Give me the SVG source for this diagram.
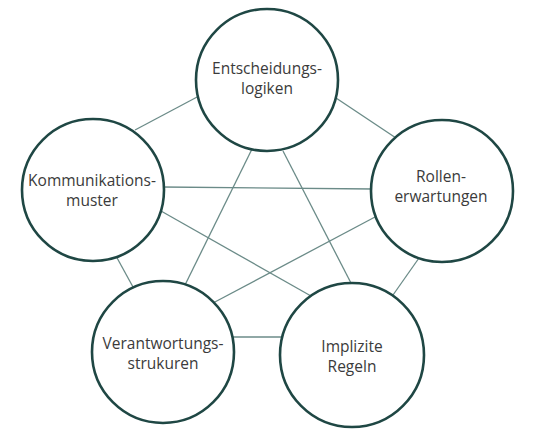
<svg xmlns="http://www.w3.org/2000/svg" width="533" height="445" viewBox="0 0 533 445">
<style>
.edge{stroke:#6b8b88;stroke-width:1.3;fill:none}
.node{fill:#ffffff;stroke:#1f4744;stroke-width:2.6}
.lbl{font-family:"Open Sans","Noto Sans",sans-serif;font-size:15.5px;fill:#3b3b3b;text-anchor:middle}
</style>
<rect width="533" height="445" fill="#ffffff"/>
<g id="connectors">
<line class="edge" x1="135" y1="130" x2="199" y2="96"/>
<line class="edge" x1="336" y1="98" x2="396" y2="138"/>
<line class="edge" x1="162" y1="187" x2="373" y2="189"/>
<line class="edge" x1="161" y1="211" x2="311" y2="296"/>
<line class="edge" x1="375" y1="217" x2="213" y2="303"/>
<line class="edge" x1="253" y1="147" x2="185" y2="285"/>
<line class="edge" x1="283" y1="151" x2="352" y2="285"/>
<line class="edge" x1="116" y1="256" x2="133" y2="287"/>
<line class="edge" x1="419" y1="258" x2="393" y2="295"/>
<line class="edge" x1="232" y1="337" x2="283" y2="337"/>
</g>
<g id="node-entscheidungslogiken">
<circle class="node" cx="267" cy="80" r="71"/>
<text class="lbl" x="267" y="74">Entscheidungs-</text>
<text class="lbl" x="267" y="94">logiken</text>
</g>
<g id="node-kommunikationsmuster">
<circle class="node" cx="93" cy="190" r="71"/>
<text class="lbl" x="92" y="186">Kommunikations-</text>
<text class="lbl" x="92" y="206">muster</text>
</g>
<g id="node-rollenerwartungen">
<circle class="node" cx="442" cy="191" r="71"/>
<text class="lbl" x="441" y="182">Rollen-</text>
<text class="lbl" x="441" y="202">erwartungen</text>
</g>
<g id="node-verantwortungsstrukuren">
<circle class="node" cx="163" cy="352" r="71"/>
<text class="lbl" x="163" y="349">Verantwortungs-</text>
<text class="lbl" x="163" y="369">strukuren</text>
</g>
<g id="node-implizite-regeln">
<circle class="node" cx="352" cy="355" r="72"/>
<text class="lbl" x="352" y="352">Implizite</text>
<text class="lbl" x="352" y="372">Regeln</text>
</g>
</svg>
